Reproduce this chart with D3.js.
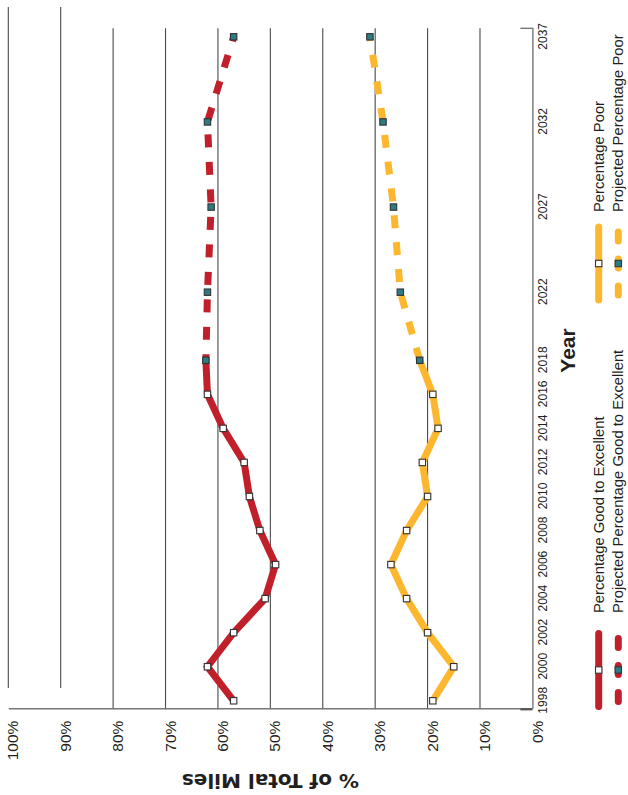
<!DOCTYPE html>
<html>
<head>
<meta charset="utf-8">
<script src="https://cdn.jsdelivr.net/npm/d3@7"></script>
<style>
  html, body { margin: 0; padding: 0; background: #fff; }
  svg { display: block; }
</style>
</head>
<body>
<svg id="chart" width="628" height="795"></svg>
<script>
// ---------------- data ----------------
const years = [1998, 2000, 2002, 2004, 2006, 2008, 2010, 2012, 2014, 2016, 2018];
const goodValues = [57, 62, 57, 51, 49, 52, 54, 55, 59, 62, 62.3];
const poorValues = [19, 15, 20, 24, 27, 24, 20, 21, 18, 19, 21.5];
const projYears = [2018, 2022, 2027, 2032, 2037];
const goodProjected = [62.3, 62, 61.3, 62, 57];
const poorProjected = [21.5, 25.2, 26.5, 28.5, 31];
const yearTicks = [1998, 2000, 2002, 2004, 2006, 2008, 2010, 2012, 2014, 2016, 2018, 2022, 2027, 2032, 2037];
const pctTicks = [0, 10, 20, 30, 40, 50, 60, 70, 80, 90, 100];
const seriesNames = ["Percentage Good to Excellent", "Projected Percentage Good to Excellent",
                     "Percentage Poor", "Projected Percentage Poor"];
const xTitle = "Year";
const yTitle = "% of Total Miles";

// ---------------- setup ----------------
const W = 628, H = 795;
const RED = "#C1202B", YELLOW = "#FDB72F", TEAL = "#2B7C85", INK = "#231F20";
const FONT = "'Liberation Sans', Arial, sans-serif";

const svg = d3.select("#chart");
// The whole chart is turned a quarter turn counter-clockwise.
const g = svg.append("g").attr("transform", `translate(0,${H}) rotate(-90)`);

const x = d3.scaleLinear().domain([1997.5, 2037.5]).range([85.7, 766.7]);
const y = d3.scaleLinear().domain([0, 100]).range([532.4, 8.3]);

// ---------------- grid ----------------
g.append("g").selectAll("line")
  .data(pctTicks.filter(d => d > 0))
  .join("line")
  .attr("x1", d => d >= 90 ? x.range()[0] + 21.3 : x.range()[0])
  .attr("x2", d => d >= 90 ? x.range()[1] + 21.3 : x.range()[1])
  .attr("y1", d => y(d)).attr("y2", d => y(d))
  .attr("stroke", "#4a4a4a").attr("stroke-width", 1.1);

// ---------------- axes ----------------
const xAxis = g.append("g")
  .attr("transform", `translate(0,${y(0)})`)
  .call(d3.axisBottom(x).tickValues(yearTicks).tickFormat(d3.format("d"))
        .tickSize(0).tickSizeOuter(0).tickPadding(6));
xAxis.attr("font-family", FONT).attr("font-size", 12);
xAxis.select(".domain").attr("stroke", "#777").attr("stroke-width", 1.4);
xAxis.selectAll("text").attr("fill", INK);

g.append("line")
  .attr("x1", x(2037.5)).attr("x2", x(2037.5))
  .attr("y1", y(0)).attr("y2", y(0) - 12)
  .attr("stroke", "#777").attr("stroke-width", 1.4);

const yAxis = g.append("g")
  .attr("transform", `translate(${x.range()[0]},0)`)
  .call(d3.axisLeft(y).tickValues(pctTicks).tickFormat(d => d + "%")
        .tickSize(0).tickSizeOuter(0).tickPadding(11.4));
yAxis.attr("font-family", FONT).attr("font-size", 15.5);
yAxis.select(".domain").attr("stroke", "#777").attr("stroke-width", 1.4);
yAxis.selectAll("text").attr("fill", INK).attr("dy", "0.62em");

g.append("line")
  .attr("x1", x.range()[0]).attr("x2", x.range()[0])
  .attr("y1", y(0)).attr("y2", y(0) - 12)
  .attr("stroke", "#555").attr("stroke-width", 2.2);

// axis titles
g.append("text")
  .attr("x", 444.5).attr("y", 567.5).attr("dy", "0.35em")
  .attr("text-anchor", "middle")
  .attr("font-family", FONT).attr("font-weight", "bold").attr("font-size", 21)
  .attr("fill", INK).text(xTitle);

g.append("text")
  .attr("transform", `translate(14,${y(50)}) rotate(-90)`)
  .attr("dy", "0.35em").attr("text-anchor", "middle")
  .attr("font-family", "'DejaVu Sans', Verdana, sans-serif").attr("font-weight", "bold").attr("font-size", 20)
  .attr("fill", INK).text(yTitle);

// ---------------- lines ----------------
const line = d3.line().x(d => x(d[0])).y(d => y(d[1]));
const goodPts = years.map((yr, i) => [yr, goodValues[i]]);
const poorPts = years.map((yr, i) => [yr, poorValues[i]]);
const goodProjPts = projYears.map((yr, i) => [yr, goodProjected[i]]);
const poorProjPts = projYears.map((yr, i) => [yr, poorProjected[i]]);

g.append("path").datum(goodPts).attr("d", line)
  .attr("fill", "none").attr("stroke", RED).attr("stroke-width", 7).attr("stroke-linejoin", "miter");
g.append("path").datum(poorPts).attr("d", line)
  .attr("fill", "none").attr("stroke", YELLOW).attr("stroke-width", 7).attr("stroke-linejoin", "miter");
g.append("path").datum(goodProjPts).attr("d", line)
  .attr("fill", "none").attr("stroke", RED).attr("stroke-width", 7)
  .attr("stroke-dasharray", "13,14.5").attr("stroke-dashoffset", 7);
g.append("path").datum(poorProjPts).attr("d", line)
  .attr("fill", "none").attr("stroke", YELLOW).attr("stroke-width", 7)
  .attr("stroke-dasharray", "13,14").attr("stroke-dashoffset", 0);

// ---------------- markers ----------------
const M = 6.4;
function markers(pts, fill) {
  g.append("g").selectAll("rect").data(pts).join("rect")
    .attr("x", d => x(d[0]) - M / 2).attr("y", d => y(d[1]) - M / 2)
    .attr("width", M).attr("height", M)
    .attr("fill", fill).attr("stroke", "#333").attr("stroke-width", 1.1);
}
markers(goodPts.slice(0, -1), "#fff");
markers(poorPts.slice(0, -1), "#fff");
markers(goodProjPts, TEAL);
markers(poorProjPts, TEAL);

// ---------------- legend ----------------
const legendGroups = [
  { color: RED, x0: 88.5, x1: 161.5, tx: 182, names: [seriesNames[0], seriesNames[1]] },
  { color: YELLOW, x0: 495, x1: 568, tx: 583, names: [seriesNames[2], seriesNames[3]] }
];
const rowY = [598.7, 618.3];
legendGroups.forEach(lg => {
  const mid = (lg.x0 + lg.x1) / 2;
  // solid
  g.append("line").attr("x1", lg.x0).attr("x2", lg.x1).attr("y1", rowY[0]).attr("y2", rowY[0])
    .attr("stroke", lg.color).attr("stroke-width", 7).attr("stroke-linecap", "round");
  g.append("rect").attr("x", mid - M / 2).attr("y", rowY[0] - M / 2).attr("width", M).attr("height", M)
    .attr("fill", "#fff").attr("stroke", "#333").attr("stroke-width", 1.1);
  // dashed
  g.append("line").attr("x1", lg.x0).attr("x2", lg.x1).attr("y1", rowY[1]).attr("y2", rowY[1])
    .attr("stroke", lg.color).attr("stroke-width", 7).attr("stroke-linecap", "round")
    .attr("stroke-dasharray", "9,18").attr("stroke-dashoffset", 22);
  g.append("rect").attr("x", mid - M / 2).attr("y", rowY[1] - M / 2).attr("width", M).attr("height", M)
    .attr("fill", TEAL).attr("stroke", "#333").attr("stroke-width", 1.1);
  lg.names.forEach((nm, i) => {
    g.append("text").attr("x", lg.tx).attr("y", rowY[i]).attr("dy", "0.35em")
      .attr("font-family", FONT).attr("font-size", 14.8).attr("fill", INK).text(nm);
  });
});
</script>
</body>
</html>
